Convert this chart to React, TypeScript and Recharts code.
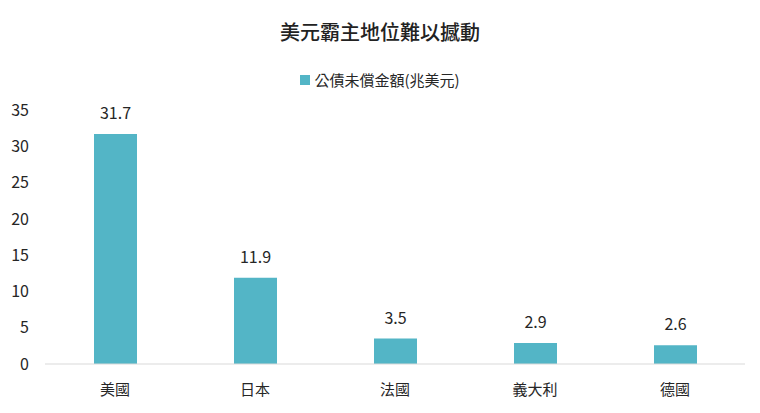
import React from "react";
import { BarChart, Bar, XAxis, YAxis, Legend, LabelList } from "recharts";

// 各國公債未償金額（兆美元）
const countries = ["美國", "日本", "法國", "義大利", "德國"];
const debtValues = [31.7, 11.9, 3.5, 2.9, 2.6];
const yTicks = [0, 5, 10, 15, 20, 25, 30, 35];

const SERIES_NAME = "公債未償金額(兆美元)";
const BAR_COLOR = "#53b5c6";
const FONT = '"Noto Sans CJK TC", "Noto Sans", sans-serif';

const data = countries.map((name, i) => ({ name, value: debtValues[i] }));

// legend: small square + series name, centred under the title
const renderLegend = () => (
  <div
    style={{
      display: "flex",
      justifyContent: "center",
      alignItems: "center",
      fontFamily: FONT,
      fontSize: 15,
      lineHeight: "20px",
      height: 20,
      color: "#262626",
    }}
  >
    <span
      style={{
        display: "inline-block",
        width: 10,
        height: 10,
        background: BAR_COLOR,
        marginRight: 4,
      }}
    />
    {SERIES_NAME}
  </div>
);

export default function App() {
  return (
    <div
      style={{
        position: "absolute",
        left: 0,
        top: 0,
        width: 760,
        height: 413,
        background: "#fff",
        fontFamily: FONT,
      }}
    >
      <div
        style={{
          position: "absolute",
          top: 18,
          left: 0,
          width: 760,
          textAlign: "center",
          fontSize: 20,
          fontWeight: 500,
          color: "#222",
          lineHeight: "28px",
        }}
      >
        美元霸主地位難以撼動
      </div>
      <BarChart
        width={760}
        height={413}
        data={data}
        margin={{ top: 90, right: 15, bottom: 19, left: 0 }}
      >
        <XAxis
          dataKey="name"
          height={30}
          tickLine={false}
          tickSize={0}
          tickMargin={20}
          axisLine={{ stroke: "#d9d9d9" }}
          tick={{ fill: "#262626", fontSize: 15, fontFamily: FONT }}
        />
        <YAxis
          width={45}
          domain={[0, 35]}
          ticks={yTicks}
          interval={0}
          axisLine={false}
          tickLine={false}
          tickSize={0}
          tickMargin={16}
          tick={{ fill: "#262626", fontSize: 16, fontFamily: FONT }}
        />
        <Legend
          verticalAlign="top"
          content={renderLegend}
          wrapperStyle={{ top: 70, left: 0, width: 760 }}
        />
        <Bar
          dataKey="value"
          name={SERIES_NAME}
          fill={BAR_COLOR}
          barSize={43}
          isAnimationActive={false}
        >
          <LabelList
            dataKey="value"
            position="top"
            offset={15}
            fill="#262626"
            fontSize={16}
            fontFamily={FONT}
          />
        </Bar>
      </BarChart>
    </div>
  );
}
